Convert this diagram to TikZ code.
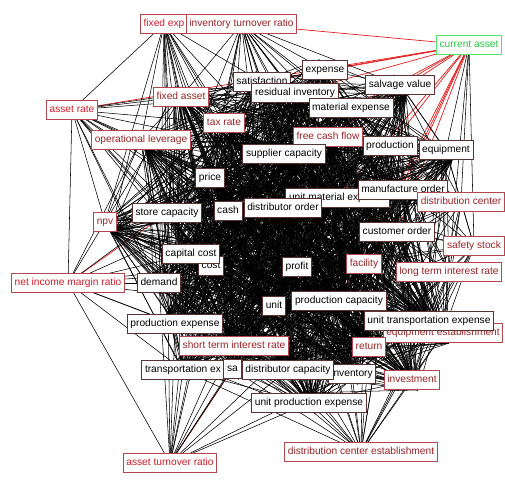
\documentclass[tikz,border=0pt]{standalone}
\usepackage{fontspec}
\setmainfont{Liberation Sans}
\pgfdeclarelayer{edges}
\pgfsetlayers{edges,main}
\definecolor{txA}{RGB}{205,30,45}
\definecolor{txB}{RGB}{150,35,40}
\definecolor{bdK}{RGB}{90,50,50}
\definecolor{bdR}{RGB}{180,70,80}
\definecolor{txG}{RGB}{40,200,70}
\definecolor{bdG}{RGB}{80,230,110}
\definecolor{edR}{RGB}{225,30,30}
\tikzset{
 box/.style={draw=bdK, fill=white, line width=0.9bp, rectangle, inner xsep=3.2bp, inner ysep=0bp,
   minimum height=19bp, text height=7.6bp, text depth=2.1bp,
   font=\fontsize{10.2bp}{12bp}\selectfont, text=black},
 rboxA/.style={box, draw=bdR, text=txA},
 rboxB/.style={box, draw=bdR, text=txB},
 gbox/.style={box, draw=bdG, text=txG, line width=1.1bp},
 edge/.style={line width=0.55bp, draw=black},
 redge/.style={line width=0.7bp, draw=edR},
}
\newcommand\myfan[2]{\foreach \t in {#2}{\draw[edge] (#1.center) -- (\t.center);}}
\newcommand\myredfan[2]{\foreach \t in {#2}{\draw[redge] (#1.center) -- (\t.center);}}
\begin{document}
\begin{tikzpicture}[x=1bp,y=-1bp]
\useasboundingbox (0,0) rectangle (505,480);
% nodes
\node[rboxA] (fe) at (164,24) {fixed exp};
\node[rboxB] (itr) at (241.5,24) {inventory turnover ratio};
\node[gbox] (ca) at (469,45) {current asset};
\node[box] (exp) at (325,70) {expense};
\node[box] (sat) at (262,82) {satisfaction};
\node[box] (ri) at (295,93) {residual inventory};
\node[box] (sv) at (400,85) {salvage value};
\node[rboxB] (fa) at (181,97) {fixed asset};
\node[rboxA] (ar) at (72,110) {asset rate};
\node[box] (me) at (351,108) {material expense};
\node[rboxB] (tr) at (224,123) {tax rate};
\node[rboxB] (ol) at (141,140) {operational leverage};
\node[rboxB] (fcf) at (328,137) {free cash flow};
\node[box] (prod) at (390,146) {production};
\node[box] (eq) at (446,150) {equipment};
\node[box] (sc) at (284,154) {supplier capacity};
\node[box] (price) at (210,178) {price};
\node[box] (ume) at (337.5,198) {unit material expense};
\node[box] (mo) at (403,190) {manufacture order};
\node[rboxB] (dc) at (461,202) {distribution center};
\node[box] (stc) at (167,213) {store capacity};
\node[rboxB] (npv) at (105,222) {npv};
\node[box] (cash) at (228,211) {cash};
\node[box] (do) at (283,208) {distributor order};
\node[box] (co) at (397,232) {customer order};
\node[rboxB] (ss) at (474,246) {safety stock};
\node[box] (cost) at (211,266) {cost};
\node[box] (cc) at (191,254) {capital cost};
\node[box] (profit) at (297,267) {profit};
\node[rboxB] (fac) at (364,264) {facility};
\node[rboxB] (ltir) at (449,272) {long term interest rate};
\node[rboxA] (nim) at (68,283) {net income margin ratio};
\node[box] (dem) at (159,283) {demand};
\node[box] (unit) at (274,306) {unit};
\node[box] (pc) at (339,301) {production capacity};
\node[box] (pe) at (175,324) {production expense};
\node[rboxB] (ee) at (443,333) {equipment establishment};
\node[box] (ute) at (429,321) {unit transportation expense};
\node[rboxB] (stir) at (234,346) {short term interest rate};
\node[rboxB] (ret) at (369,347) {return};
\node[box] (te) at (183,370) {transportation ex};
\node[box] (sa) at (232.5,369) {sa};
\node[box] (inv) at (352,374) {inventory};
\node[box] (dcap) at (288,370) {distributor capacity};
\node[rboxB] (invest) at (412,380) {investment};
\node[box] (upe) at (309,403) {unit production expense};
\node[rboxB] (dce) at (361,452) {distribution center establishment};
\node[rboxA] (atr) at (170,463) {asset turnover ratio};
% edges
\begin{pgfonlayer}{edges}
\myredfan{ca}{itr,exp,sat,ar,sv,me,fcf,prod,mo,co,fac,ume,pc,ri}
\draw[redge] (atr.center) -- (sa.center);
\draw[redge] (nim.center) -- (stc.center);
\foreach \a [count=\i] in {sat,exp,ri,fa,tr,me,fcf,prod,sc,price,mo,ume,stc,cash,do,co,cc,cost,profit,fac,dem,unit,pc,pe,ute,stir,ret,te,sa,dcap,inv,upe,sv,ol,eq,ee,invest,npv}{
  \foreach \b [count=\j] in {sat,exp,ri,fa,tr,me,fcf,prod,sc,price,mo,ume,stc,cash,do,co,cc,cost,profit,fac,dem,unit,pc,pe,ute,stir,ret,te,sa,dcap,inv,upe,sv,ol,eq,ee,invest,npv}{
    \ifnum\j>\i
      \draw[edge] (\a.center) -- (\b.center);
      \draw[edge] ([xshift=-6bp]\a.north) -- ([xshift=6bp]\b.south);
    \fi
  }
}
\foreach \a [count=\i] in {ri,tr,fcf,sc,price,cash,do,cc,profit,fac,unit,pc,co,mo,ume,stir,ret,dcap,inv,pe}{
  \foreach \b [count=\j] in {ri,tr,fcf,sc,price,cash,do,cc,profit,fac,unit,pc,co,mo,ume,stir,ret,dcap,inv,pe}{
    \ifnum\j>\i
      \draw[edge] ([xshift=8bp]\a.south) -- ([xshift=-8bp]\b.north);
    \fi
  }
}
\myfan{fe}{ar,fa,tr,ol,price,stc,cash,cc,dem,pe,sc,sat,profit,do,unit,npv,cost,stir,te}
\myfan{itr}{sat,exp,ri,me,fcf,sc,price,cash,do,profit,prod,sv,tr,fa,unit,co,ume,pc,mo,fac,stc,cc}
\myfan{ar}{nim,fa,ol,tr,sat,npv,stc,price,cc,dem,pe,cash,sc,profit,cost,do,unit,ri}
\myfan{nim}{npv,cc,dem,pe,ol,price,atr,te,stir,cash,profit,cost,unit}
\myfan{atr}{pe,te,dcap,upe,stir,dem,cc,unit,profit,inv,cost,stc,cash,pc,do}
\myfan{dce}{upe,inv,invest,ret,dcap,ute,ee,ltir,pc,fac,co,unit,profit,sa,stir,te,ss,cost,do,mo}
\myfan{ltir}{co,fac,pc,profit,ute,ee,ret,invest,inv,unit,mo,ume,do,prod,eq,ss,dc,cash,dcap,upe,stir}
\myfan{ss}{co,mo,fac,eq,prod,ume,profit,pc,ute,ee,dc,do,invest,ret}
\myfan{dc}{mo,co,prod,eq,ume,fac,profit,pc,ute,me,fcf,sv,do,cash,ret,ee}
\myfan{ca}{eq,dc,ss,ee}
\end{pgfonlayer}
\end{tikzpicture}
\end{document}
